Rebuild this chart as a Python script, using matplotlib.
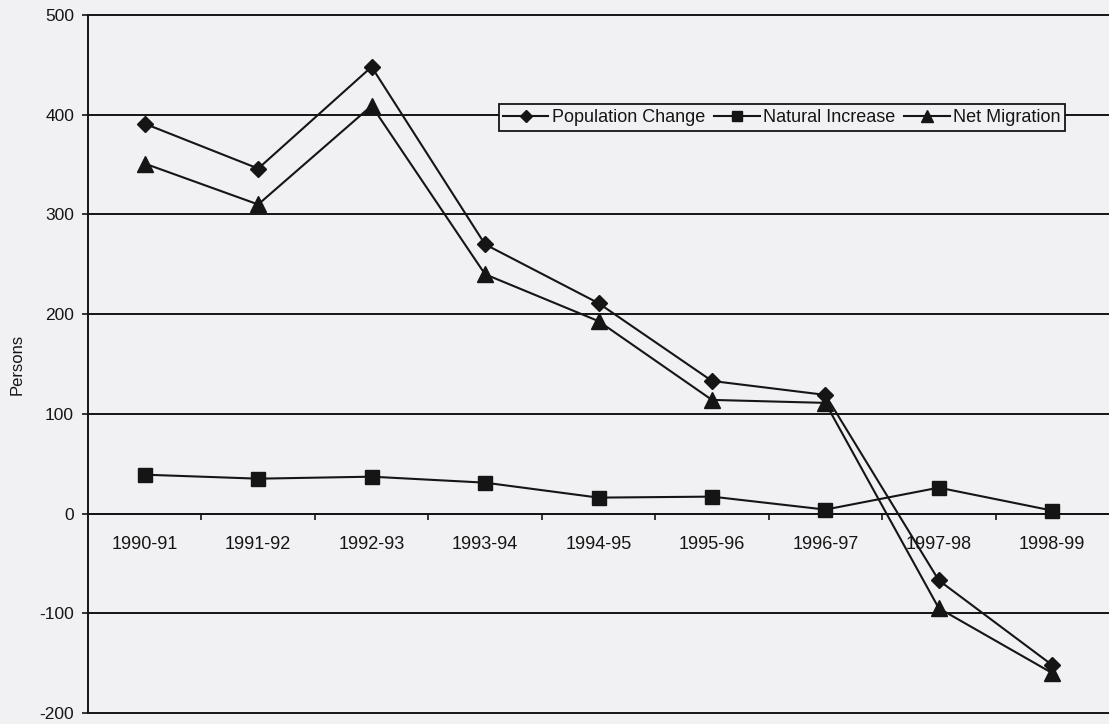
import matplotlib
matplotlib.use("Agg")
import matplotlib.pyplot as plt

plt.rcParams['font.family'] = ['Liberation Sans', 'DejaVu Sans']

categories = ["1990-91", "1991-92", "1992-93", "1993-94", "1994-95",
              "1995-96", "1996-97", "1997-98", "1998-99"]
population_change = [391, 346, 448, 270, 211, 133, 119, -67, -152]
natural_increase = [39, 35, 37, 31, 16, 17, 4, 26, 3]
net_migration = [351, 310, 409, 240, 193, 114, 111, -95, -160]
y_ticks = [-200, -100, 0, 100, 200, 300, 400, 500]

bg = '#f1f1f3'
ink = '#151515'
fig = plt.figure(figsize=(11.09, 7.24), dpi=100, facecolor=bg)
ax = fig.add_axes([88/1109, 1 - 713/724, 1 - 88/1109, (713 - 15)/724])
ax.set_facecolor(bg)

x = list(range(len(categories)))
ax.set_xlim(-0.5, len(categories) - 0.5)
ax.set_ylim(y_ticks[0], y_ticks[-1])

for v in y_ticks:
    ax.axhline(v, color=ink, lw=1.4, zorder=1, clip_on=False)

ax.plot(x, population_change, color=ink, lw=1.5, marker='D', markersize=8.5,
        markerfacecolor=ink, markeredgecolor=ink, label='Population Change', zorder=3)
ax.plot(x, natural_increase, color=ink, lw=1.5, marker='s', markersize=10.5,
        markerfacecolor=ink, markeredgecolor=ink, label='Natural Increase', zorder=3)
ax.plot(x, net_migration, color=ink, lw=1.5, marker='^', markersize=12,
        markerfacecolor=ink, markeredgecolor=ink, label='Net Migration', zorder=3)

for s in ['top', 'right']:
    ax.spines[s].set_visible(False)
ax.spines['left'].set_color(ink)
ax.spines['left'].set_linewidth(1.4)
ax.spines['bottom'].set_position(('data', 0))
ax.spines['bottom'].set_color(ink)
ax.spines['bottom'].set_linewidth(1.4)

ax.set_yticks(y_ticks)
ax.set_yticklabels([str(v) for v in y_ticks], fontsize=12.5, color=ink)
ax.tick_params(axis='y', length=4, width=1.2, color=ink, pad=6)

ax.set_xticks(x)
ax.set_xticklabels(categories, fontsize=13, color=ink)
ax.tick_params(axis='x', which='major', length=0, pad=16)
ax.set_xticks([i + 0.5 for i in x[:-1]], minor=True)
ax.tick_params(axis='x', which='minor', length=4, width=1.2, color=ink, direction='out')

ax.set_ylabel('Persons', fontsize=12, color=ink)
ax.yaxis.set_label_coords(-0.062, 0.5)

leg = ax.legend(loc='center', bbox_to_anchor=(782/1109, 1 - 117.5/724),
                bbox_transform=fig.transFigure, ncol=3, frameon=True, fancybox=False,
                fontsize=13, handlelength=2.5, handletextpad=0.2, columnspacing=0.5,
                borderpad=0.25, borderaxespad=0, markerscale=0.75)
for t in leg.get_texts():
    t.set_color(ink)
leg.get_frame().set_edgecolor(ink)
leg.get_frame().set_linewidth(1.3)
leg.get_frame().set_facecolor(bg)
leg.get_frame().set_alpha(1)

fig.savefig('out.png', dpi=100, facecolor=bg)
